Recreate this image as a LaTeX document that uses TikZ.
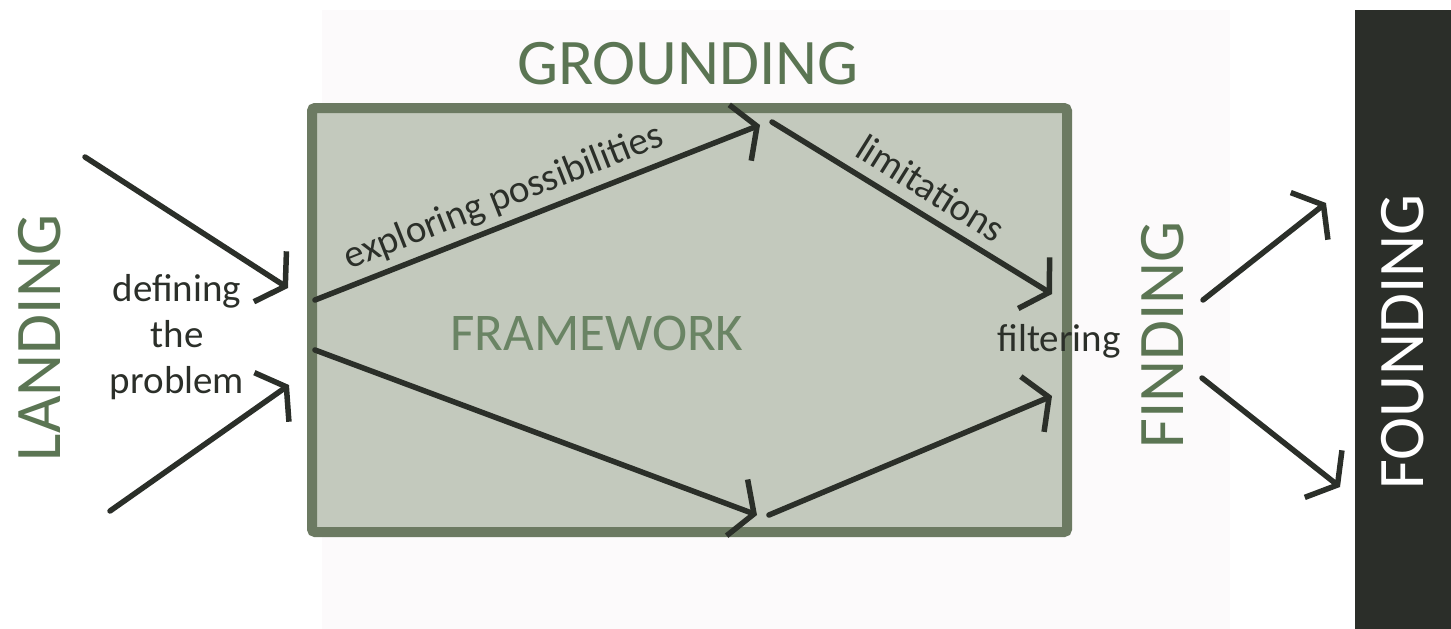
\documentclass[tikz,border=0pt]{standalone}
\usepackage{fontspec}
\setmainfont{Carlito}
\usetikzlibrary{arrows.meta}
\definecolor{titlegreen}{HTML}{5B7553}
\definecolor{framegreen}{HTML}{6A8464}
\definecolor{boxborder}{HTML}{6C7A62}
\definecolor{boxfill}{HTML}{C3C9BD}
\definecolor{arrowdark}{HTML}{2B2F29}
\definecolor{bardark}{HTML}{2B2E29}
\definecolor{faintbg}{HTML}{FCFAFB}
\tikzset{
  flow/.style={draw=arrowdark, line width=5.5pt, line cap=round,
    -{Straight Barb[length=18pt, width=60pt, line width=5.5pt]}},
  bigword/.style={font=\fontsize{65}{70}\selectfont, inner sep=0pt},
  bodytext/.style={font=\fontsize{39}{46}\selectfont, inner sep=0pt, text=arrowdark}
}
\begin{document}
\begin{tikzpicture}[x=1pt, y=-1pt]
  \useasboundingbox[fill=white] (0,0) rectangle (1451,629);
  % faint background panel
  \fill[faintbg] (322,10) rectangle (1230,629);
  % dark bar
  \fill[bardark] (1355,10) rectangle (1451,629);
  % framework box
  \draw[draw=boxborder, fill=boxfill, line width=10pt, rounded corners=3pt]
    (312,108) rectangle (1067,532);

  % titles
  \node[bigword, text=titlegreen] (grounding) at (688,64) {GROUNDING};
  \node[bigword, text=titlegreen, rotate=90] (landing) at (40,338) {LANDING};
  \node[bigword, text=titlegreen, rotate=90] (finding) at (1163,335) {FINDING};
  \node[bigword, text=white, rotate=90] (founding) at (1403,342) {FOUNDING};
  \node[font=\fontsize{53}{58}\selectfont, inner sep=0pt, text=framegreen] (framework) at (597,333) {FRAMEWORK};

  % body labels
  \node[bodytext, align=center] (defining) at (177,337) {defining\\the\\problem};
  \node[bodytext, anchor=base] (filtering) at (1059,351) {filtering};
  \node[bodytext, rotate=21.5] (exploring) at (504,198) {exploring possibilities};
  \node[bodytext, rotate=-32] (limitations) at (931,188) {limitations};

  % connector end points
  \coordinate (l1s) at (85,157);   \coordinate (l1e) at (288,288);
  \coordinate (l2s) at (110,511);  \coordinate (l2e) at (289,385);
  \coordinate (b1s) at (315,300);  \coordinate (b1e) at (760,125);
  \coordinate (b2s) at (315,350);  \coordinate (b2e) at (757,515);
  \coordinate (b3s) at (772,122);  \coordinate (b3e) at (1052,294);
  \coordinate (b4s) at (769,515);  \coordinate (b4e) at (1052,396);
  \coordinate (r1s) at (1203,300); \coordinate (r1e) at (1326,203);
  \coordinate (r2s) at (1202,378); \coordinate (r2e) at (1340,487);

  % connectors
  \draw[flow] (l1s) -- (l1e);
  \draw[flow] (l2s) -- (l2e);
  \draw[flow] (b1s) -- (b1e);
  \draw[flow] (b2s) -- (b2e);
  \draw[flow] (b3s) -- (b3e);
  \draw[flow] (b4s) -- (b4e);
  \draw[flow] (r1s) -- (r1e);
  \draw[flow] (r2s) -- (r2e);
\end{tikzpicture}
\end{document}
